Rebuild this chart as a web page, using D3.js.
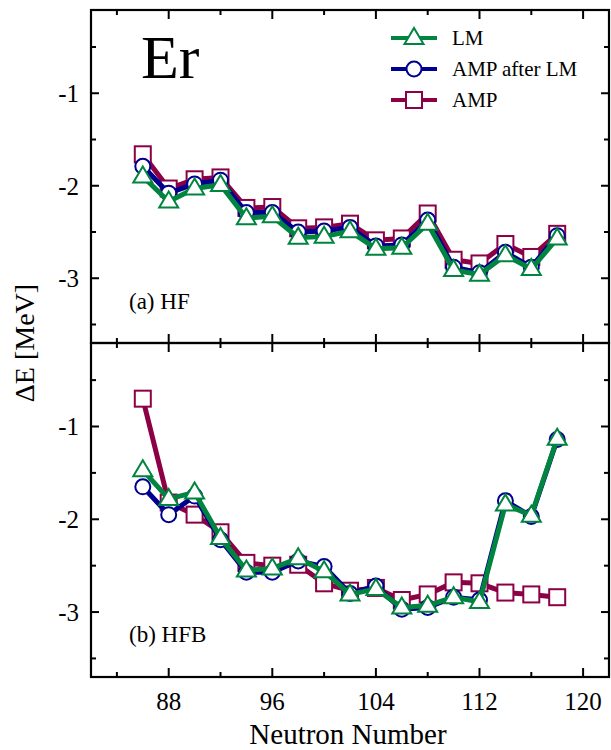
<!DOCTYPE html>
<html>
<head>
<meta charset="utf-8">
<script src="https://cdn.jsdelivr.net/npm/d3@7"></script>
<style>
  html, body { margin: 0; padding: 0; background: #fff; }
  svg { display: block; }
  text { font-family: "Liberation Serif", "DejaVu Serif", serif; fill: #000; }
</style>
</head>
<body>
<svg id="chart" width="611" height="750"></svg>
<script>
// ---- data ----
const neutrons = [86, 88, 90, 92, 94, 96, 98, 100, 102, 104, 106, 108, 110, 112, 114, 116, 118];

const hfAMP   = [-1.66, -2.03, -1.93, -1.91, -2.24, -2.23, -2.46, -2.45, -2.41, -2.59, -2.57, -2.30, -2.80, -2.84, -2.63, -2.77, -2.52];
const hfAMPLM = [-1.79, -2.08, -1.98, -1.94, -2.29, -2.29, -2.50, -2.49, -2.45, -2.65, -2.64, -2.37, -2.88, -2.94, -2.72, -2.88, -2.54];
const hfLM    = [-1.90, -2.17, -2.03, -1.99, -2.35, -2.33, -2.56, -2.55, -2.49, -2.68, -2.67, -2.41, -2.91, -2.96, -2.75, -2.90, -2.57];

const hfbAMP   = [-0.70, -1.82, -1.95, -2.14, -2.47, -2.50, -2.49, -2.69, -2.77, -2.74, -2.87, -2.81, -2.68, -2.69, -2.79, -2.81, -2.84];
const hfbAMPLM = [-1.65, -1.95, -1.75, -2.22, -2.57, -2.57, -2.45, -2.51, -2.80, -2.72, -2.97, -2.95, -2.84, -2.87, -1.80, -1.97, -1.14];
const hfbLM    = [-1.47, -1.78, -1.71, -2.20, -2.55, -2.53, -2.42, -2.56, -2.81, -2.75, -2.95, -2.93, -2.84, -2.89, -1.84, -1.96, -1.13];

const xTickLabels = [88, 96, 104, 112, 120];
const yTickLabels = [-1, -2, -3];
const seriesNames = ["LM", "AMP after LM", "AMP"];
const panelLabels = ["(a) HF", "(b) HFB"];
const element = "Er";

// ---- layout ----
const svg = d3.select("#chart");
const L = 91, R = 609;
const panels = [
  { top: 10, bottom: 343, label: panelLabels[0], data: [hfAMP, hfAMPLM, hfLM] },
  { top: 343, bottom: 677, label: panelLabels[1], data: [hfbAMP, hfbAMPLM, hfbLM] }
];
const colors = { LM: "#00843f", AMPLM: "#000090", AMP: "#8c0046" };
const styles = [
  { key: "AMP", color: colors.AMP, shape: "square" },
  { key: "AMPLM", color: colors.AMPLM, shape: "circle" },
  { key: "LM", color: colors.LM, shape: "triangle" }
];

const x = d3.scaleLinear().domain([82, 122]).range([L, R]);

function drawMarker(g, shape, cx, cy, color) {
  if (shape === "square") {
    g.append("rect").attr("x", cx - 8).attr("y", cy - 8).attr("width", 16).attr("height", 16)
      .attr("fill", "#fff").attr("stroke", color).attr("stroke-width", 2);
  } else if (shape === "circle") {
    g.append("circle").attr("cx", cx).attr("cy", cy).attr("r", 7.5)
      .attr("fill", "#fff").attr("stroke", color).attr("stroke-width", 2);
  } else {
    const s = 19, h = 16;
    g.append("path")
      .attr("d", `M${cx},${cy - h * 0.62}L${cx + s / 2},${cy + h * 0.38}L${cx - s / 2},${cy + h * 0.38}Z`)
      .attr("fill", "#fff").attr("stroke", color).attr("stroke-width", 2).attr("stroke-linejoin", "miter");
  }
}

panels.forEach((p, pi) => {
  const y = d3.scaleLinear().domain([-3.7, -0.1]).range([p.bottom, p.top]);
  const g = svg.append("g");

  // series
  styles.forEach((st, si) => {
    const vals = p.data[si];
    const pts = neutrons.map((n, i) => [x(n), y(vals[i])]);
    g.append("path").attr("d", d3.line()(pts)).attr("fill", "none")
      .attr("stroke", st.color).attr("stroke-width", 5).attr("stroke-linejoin", "round");
    pts.forEach(pt => drawMarker(g, st.shape, pt[0], pt[1], st.color));
  });

  // ticks (inward, all four sides)
  const xMajor = d3.range(88, 121, 8);
  const xMinor = d3.range(84, 121, 8);
  const yMajor = [-1, -2, -3];
  const yMinor = [-0.5, -1.5, -2.5, -3.5];
  const tk = g.append("g").attr("stroke", "#000").attr("stroke-width", 2);
  xMajor.forEach(v => {
    tk.append("line").attr("x1", x(v)).attr("x2", x(v)).attr("y1", p.bottom).attr("y2", p.bottom - 9);
    tk.append("line").attr("x1", x(v)).attr("x2", x(v)).attr("y1", p.top).attr("y2", p.top + 9);
  });
  xMinor.forEach(v => {
    tk.append("line").attr("x1", x(v)).attr("x2", x(v)).attr("y1", p.bottom).attr("y2", p.bottom - 5);
    tk.append("line").attr("x1", x(v)).attr("x2", x(v)).attr("y1", p.top).attr("y2", p.top + 5);
  });
  yMajor.forEach(v => {
    tk.append("line").attr("x1", L).attr("x2", L + 8).attr("y1", y(v)).attr("y2", y(v));
    tk.append("line").attr("x1", R).attr("x2", R - 8).attr("y1", y(v)).attr("y2", y(v));
  });
  yMinor.forEach(v => {
    tk.append("line").attr("x1", L).attr("x2", L + 5).attr("y1", y(v)).attr("y2", y(v));
    tk.append("line").attr("x1", R).attr("x2", R - 5).attr("y1", y(v)).attr("y2", y(v));
  });

  // frame
  g.append("rect").attr("x", L).attr("y", p.top).attr("width", R - L).attr("height", p.bottom - p.top)
    .attr("fill", "none").attr("stroke", "#000").attr("stroke-width", 2.2);

  // y labels
  yTickLabels.forEach(v => {
    g.append("text").attr("x", 79).attr("y", y(v)).attr("dy", "0.35em")
      .attr("text-anchor", "end").attr("font-size", 25).text(String(v));
  });

  // panel label
  g.append("text").attr("x", 129).attr("y", pi === 0 ? 309 : 642).attr("font-size", 23).text(p.label);

  if (pi === 1) {
    xTickLabels.forEach(v => {
      g.append("text").attr("x", x(v)).attr("y", 710).attr("text-anchor", "middle")
        .attr("font-size", 25).text(v);
    });
  }
});

// element label
svg.append("text").attr("x", 141).attr("y", 78).attr("font-size", 62).text(element);

// legend
const legendRows = [
  { name: seriesNames[0], color: colors.LM, shape: "triangle", y: 38 },
  { name: seriesNames[1], color: colors.AMPLM, shape: "circle", y: 69 },
  { name: seriesNames[2], color: colors.AMP, shape: "square", y: 100 }
];
const lg = svg.append("g");
legendRows.forEach(r => {
  lg.append("line").attr("x1", 391).attr("x2", 437).attr("y1", r.y).attr("y2", r.y)
    .attr("stroke", r.color).attr("stroke-width", 4);
  drawMarker(lg, r.shape, 414, r.y, r.color);
  lg.append("text").attr("x", 452).attr("y", r.y).attr("dy", "0.35em").attr("font-size", 21).text(r.name);
});

// axis titles
svg.append("text").attr("x", 348).attr("y", 744).attr("text-anchor", "middle").attr("font-size", 29)
  .text("Neutron Number");
svg.append("text").attr("transform", "translate(34,343) rotate(-90)").attr("text-anchor", "middle")
  .attr("font-size", 28).text("ΔE [MeV]");
</script>
</body>
</html>
